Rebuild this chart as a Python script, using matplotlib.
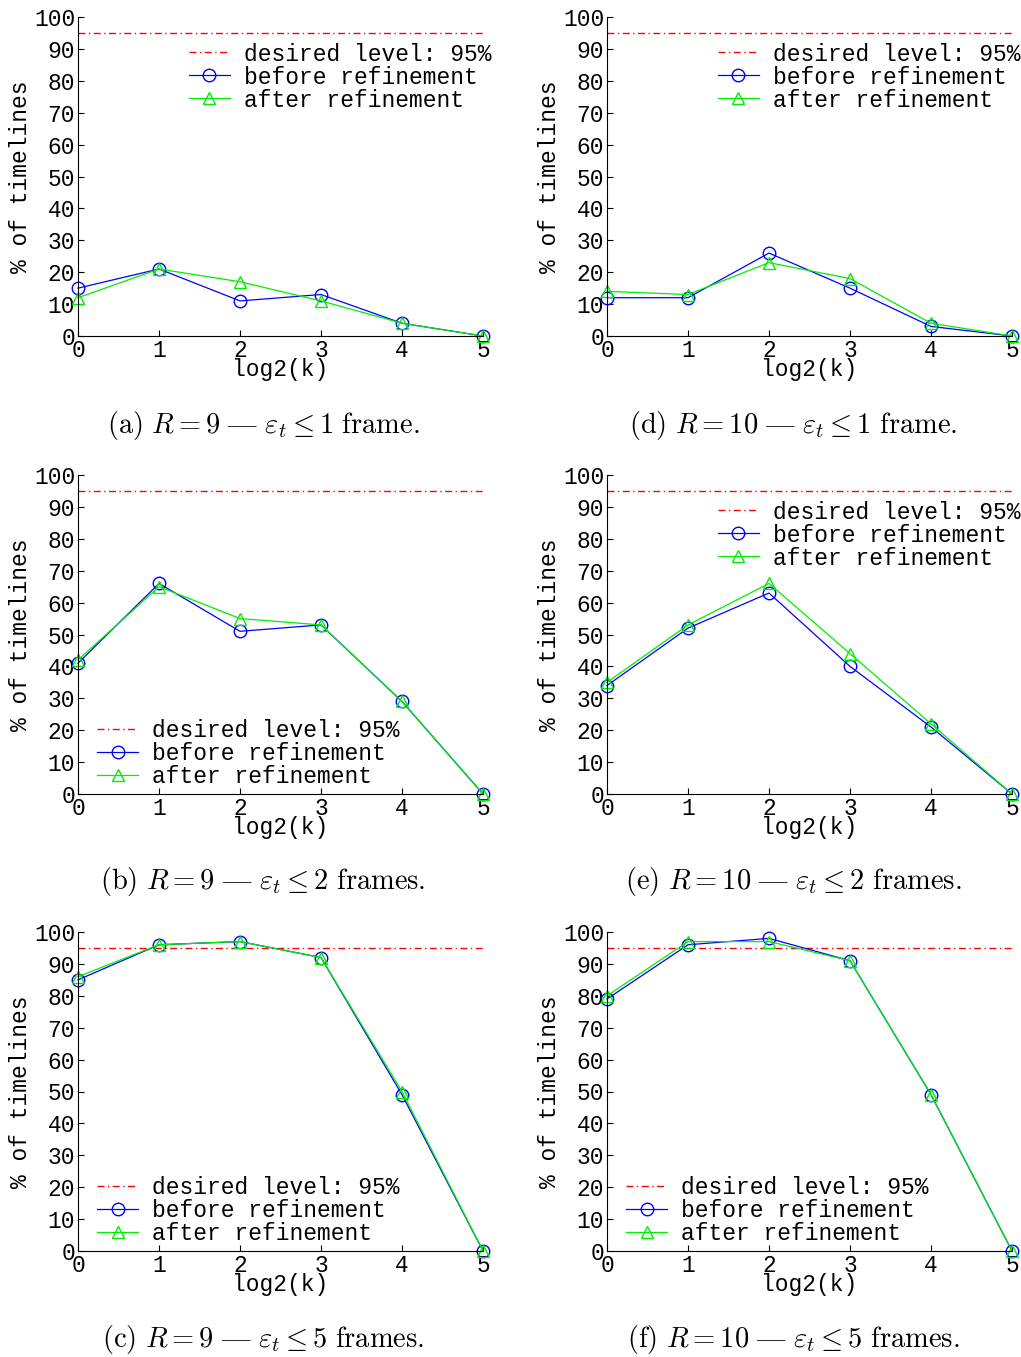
import matplotlib
matplotlib.use("Agg")
import matplotlib.pyplot as plt

plt.rcParams["font.family"] = ["Liberation Mono", "DejaVu Sans Mono"]
plt.rcParams["mathtext.fontset"] = "cm"

# log2(k) on the x axis
k_log2 = [0, 1, 2, 3, 4, 5]
desired = 95

# R = 9
before_r9_e1 = [15, 21, 11, 13, 4, 0]
after_r9_e1 = [12, 21, 17, 11, 4, 0]
before_r9_e2 = [41, 66, 51, 53, 29, 0]
after_r9_e2 = [42, 65, 55, 53, 29, 0]
before_r9_e5 = [85, 96, 97, 92, 49, 0]
after_r9_e5 = [86, 96, 97, 92, 50, 0]

# R = 10
before_r10_e1 = [12, 12, 26, 15, 3, 0]
after_r10_e1 = [14, 13, 23, 18, 4, 0]
before_r10_e2 = [34, 52, 63, 40, 21, 0]
after_r10_e2 = [35, 53, 66, 44, 22, 0]
before_r10_e5 = [79, 96, 98, 91, 49, 0]
after_r10_e5 = [80, 97, 97, 91, 49, 0]

captions = [
    r"$\mathrm{(a)}\ R = 9\ \mathrm{—}\ \varepsilon_t \leq 1\ \mathrm{frame.}$",
    r"$\mathrm{(b)}\ R = 9\ \mathrm{—}\ \varepsilon_t \leq 2\ \mathrm{frames.}$",
    r"$\mathrm{(c)}\ R = 9\ \mathrm{—}\ \varepsilon_t \leq 5\ \mathrm{frames.}$",
    r"$\mathrm{(d)}\ R = 10\ \mathrm{—}\ \varepsilon_t \leq 1\ \mathrm{frame.}$",
    r"$\mathrm{(e)}\ R = 10\ \mathrm{—}\ \varepsilon_t \leq 2\ \mathrm{frames.}$",
    r"$\mathrm{(f)}\ R = 10\ \mathrm{—}\ \varepsilon_t \leq 5\ \mathrm{frames.}$",
]

W, H = 1021, 1357
FS = 16.5

panels = [
    # (before, after, column, row, legend at top?)
    (before_r9_e1, after_r9_e1, 0, 0, True),
    (before_r9_e2, after_r9_e2, 0, 1, False),
    (before_r9_e5, after_r9_e5, 0, 2, False),
    (before_r10_e1, after_r10_e1, 1, 0, True),
    (before_r10_e2, after_r10_e2, 1, 1, True),
    (before_r10_e5, after_r10_e5, 1, 2, False),
]

col_left = [78, 607]
row_top = [17, 475, 932]
ax_w, ax_h = 405, 319
cap_y = [425, 882, 1340]
cap_x = [263, 793]

fig = plt.figure(figsize=(W / 100, H / 100), dpi=100)

for i, (before, after, col, row, top_legend) in enumerate(panels):
    x0 = col_left[col] / W
    y0 = 1 - (row_top[row] + ax_h) / H
    ax = fig.add_axes([x0, y0, ax_w / W, ax_h / H])

    ax.plot([k_log2[0], k_log2[-1]], [desired, desired], color="#ff0000",
            linestyle=(0, (5, 2.5, 1, 2.5)), linewidth=1.0,
            label="desired level: 95%")
    ax.plot(k_log2, before, color="#0000ff", marker="o", markersize=9,
            markerfacecolor="none", linewidth=0.9, clip_on=False,
            label="before refinement")
    ax.plot(k_log2, after, color="#00ee00", marker="^", markersize=9,
            markerfacecolor="none", linewidth=0.9, clip_on=False,
            label="after refinement")

    ax.set_xlim(0, 5)
    ax.set_ylim(0, 100)
    ax.set_xticks(k_log2)
    ax.set_yticks(range(0, 101, 10))
    ax.spines["top"].set_visible(False)
    ax.spines["right"].set_visible(False)
    ax.tick_params(direction="in", length=4, labelsize=FS)
    ax.tick_params(axis="x", pad=2)
    ax.tick_params(axis="y", pad=2)

    ax.set_xlabel("log2(k)", fontsize=FS)
    ax.set_ylabel("% of timelines", fontsize=FS)
    ax.xaxis.set_label_coords(0.5, -0.068)
    ax.yaxis.set_label_coords(-0.113, 0.5)

    if top_legend:
        ax.legend(loc="upper right", bbox_to_anchor=(1.02, 0.92),
                  frameon=False, fontsize=FS, borderpad=0, labelspacing=0,
                  handlelength=1.8, handletextpad=0.6, borderaxespad=0)
    else:
        ax.legend(loc="lower left", bbox_to_anchor=(0.047, 0.02),
                  frameon=False, fontsize=FS, borderpad=0, labelspacing=0,
                  handlelength=1.8, handletextpad=0.6, borderaxespad=0)

    fig.text(cap_x[col] / W, 1 - cap_y[row] / H, captions[i],
             ha="center", va="center", fontsize=20.5)

fig.savefig("out.png", dpi=100)
